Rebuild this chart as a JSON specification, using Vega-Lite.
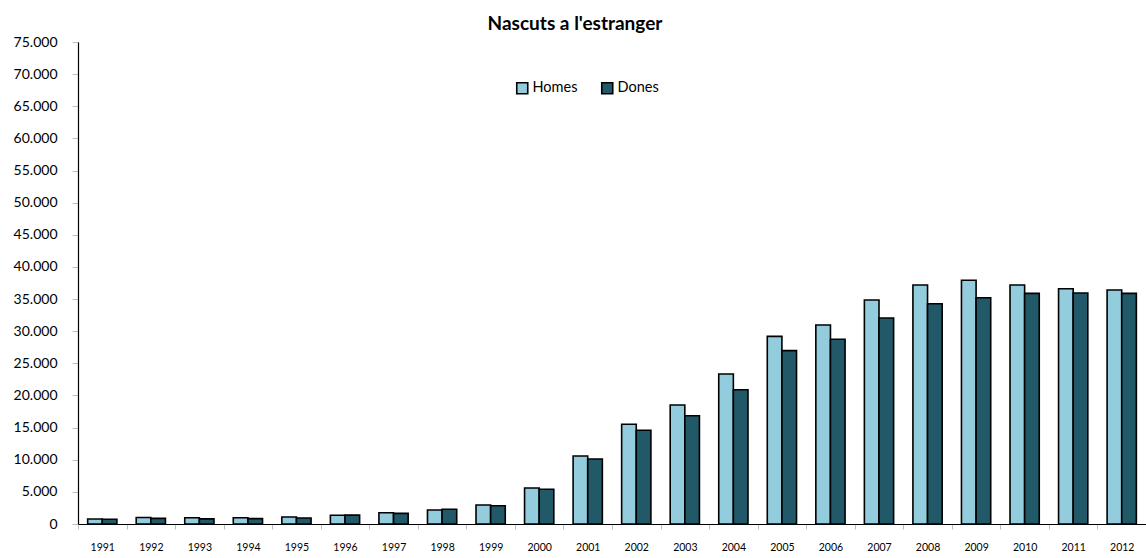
{
  "$schema": "https://vega.github.io/schema/vega-lite/v6.json",
  "autosize": {"type": "none"},
  "width": 1068,
  "height": 482,
  "padding": {"left": 78, "top": 42, "right": 0, "bottom": 34},
  "background": "white",
  "config": {
    "font": "Lato",
    "view": {"stroke": null}
  },
  "title": {
    "text": "Nascuts a l'estranger",
    "font": "Lato",
    "fontSize": 19,
    "fontWeight": "bold",
    "color": "#000000",
    "anchor": "middle",
    "frame": "group",
    "dx": -37,
    "offset": 1
  },
  "data": {
    "values": [
      {"any": "1991", "sexe": "Homes", "valor": 780}, {"any": "1991", "sexe": "Dones", "valor": 730},
      {"any": "1992", "sexe": "Homes", "valor": 1010}, {"any": "1992", "sexe": "Dones", "valor": 880},
      {"any": "1993", "sexe": "Homes", "valor": 980}, {"any": "1993", "sexe": "Dones", "valor": 800},
      {"any": "1994", "sexe": "Homes", "valor": 980}, {"any": "1994", "sexe": "Dones", "valor": 830},
      {"any": "1995", "sexe": "Homes", "valor": 1090}, {"any": "1995", "sexe": "Dones", "valor": 930},
      {"any": "1996", "sexe": "Homes", "valor": 1350}, {"any": "1996", "sexe": "Dones", "valor": 1380},
      {"any": "1997", "sexe": "Homes", "valor": 1760}, {"any": "1997", "sexe": "Dones", "valor": 1660},
      {"any": "1998", "sexe": "Homes", "valor": 2180}, {"any": "1998", "sexe": "Dones", "valor": 2290},
      {"any": "1999", "sexe": "Homes", "valor": 2960}, {"any": "1999", "sexe": "Dones", "valor": 2850},
      {"any": "2000", "sexe": "Homes", "valor": 5600}, {"any": "2000", "sexe": "Dones", "valor": 5400},
      {"any": "2001", "sexe": "Homes", "valor": 10580}, {"any": "2001", "sexe": "Dones", "valor": 10110},
      {"any": "2002", "sexe": "Homes", "valor": 15510}, {"any": "2002", "sexe": "Dones", "valor": 14580},
      {"any": "2003", "sexe": "Homes", "valor": 18520}, {"any": "2003", "sexe": "Dones", "valor": 16850},
      {"any": "2004", "sexe": "Homes", "valor": 23340}, {"any": "2004", "sexe": "Dones", "valor": 20900},
      {"any": "2005", "sexe": "Homes", "valor": 29200}, {"any": "2005", "sexe": "Dones", "valor": 26970},
      {"any": "2006", "sexe": "Homes", "valor": 30960}, {"any": "2006", "sexe": "Dones", "valor": 28740},
      {"any": "2007", "sexe": "Homes", "valor": 34850}, {"any": "2007", "sexe": "Dones", "valor": 32050},
      {"any": "2008", "sexe": "Homes", "valor": 37190}, {"any": "2008", "sexe": "Dones", "valor": 34280},
      {"any": "2009", "sexe": "Homes", "valor": 37920}, {"any": "2009", "sexe": "Dones", "valor": 35210},
      {"any": "2010", "sexe": "Homes", "valor": 37190}, {"any": "2010", "sexe": "Dones", "valor": 35890},
      {"any": "2011", "sexe": "Homes", "valor": 36610}, {"any": "2011", "sexe": "Dones", "valor": 35940},
      {"any": "2012", "sexe": "Homes", "valor": 36410}, {"any": "2012", "sexe": "Dones", "valor": 35890}
    ]
  },
  "mark": {"type": "bar", "stroke": "#000000", "strokeWidth": 1.6, "cornerRadius": 0},
  "encoding": {
    "x": {
      "field": "any",
      "type": "nominal",
      "sort": null,
      "title": null,
      "scale": {"paddingInner": 0, "paddingOuter": 0},
      "axis": {
        "labelAngle": 0,
        "labelFontSize": 10.5,
        "labelColor": "#000000",
        "labelPadding": 13,
        "tickBand": "extent",
        "tickColor": "#bfbfbf",
        "tickSize": 5,
        "domainColor": "#000000",
        "domainWidth": 1.2
      }
    },
    "xOffset": {
      "field": "sexe",
      "type": "nominal",
      "sort": ["Homes", "Dones"],
      "scale": {"paddingInner": 0, "paddingOuter": 0.66}
    },
    "y": {
      "field": "valor",
      "type": "quantitative",
      "title": null,
      "scale": {"domain": [0, 75000], "nice": false},
      "axis": {
        "values": [0, 5000, 10000, 15000, 20000, 25000, 30000, 35000, 40000, 45000, 50000, 55000, 60000, 65000, 70000, 75000],
        "labelExpr": "replace(format(datum.value, ','), ',', '.')",
        "labelFontSize": 14,
        "labelColor": "#000000",
        "labelPadding": 15,
        "grid": false,
        "tickColor": "#bfbfbf",
        "tickSize": 6,
        "domainColor": "#000000",
        "domainWidth": 1.2
      }
    },
    "color": {
      "field": "sexe",
      "type": "nominal",
      "sort": ["Homes", "Dones"],
      "scale": {"domain": ["Homes", "Dones"], "range": ["#93cddd", "#215968"]},
      "legend": {
        "title": null,
        "orient": "none",
        "direction": "horizontal",
        "legendX": 437,
        "legendY": 39,
        "symbolType": "square",
        "symbolSize": 121,
        "symbolStrokeColor": "#000000",
        "symbolStrokeWidth": 1.6,
        "labelFontSize": 14.5,
        "labelColor": "#000000",
        "labelOffset": 3,
        "columnPadding": 20
      }
    }
  }
}
